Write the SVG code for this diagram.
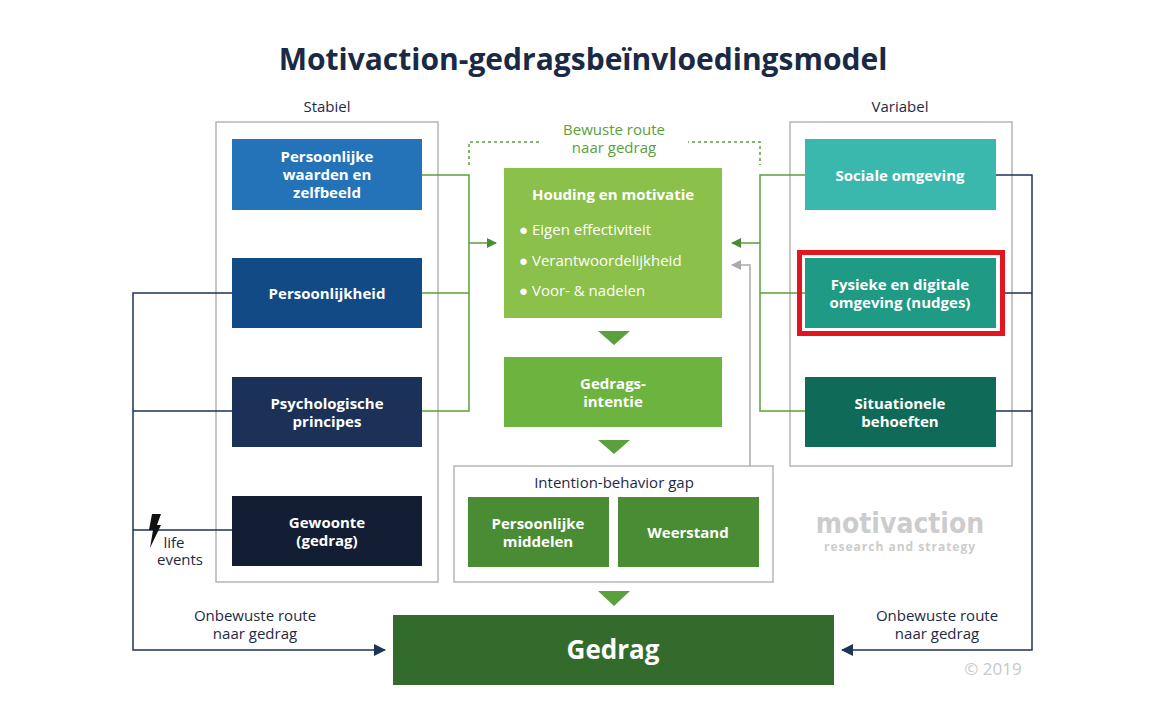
<svg xmlns="http://www.w3.org/2000/svg" width="1173" height="714" viewBox="0 0 1173 714">
<defs>
<marker id="ag" markerWidth="10" markerHeight="10" refX="9" refY="5" orient="auto" markerUnits="userSpaceOnUse"><path d="M0,0 L10,5 L0,10 z" fill="#4a8c34"/></marker>
<marker id="agr" markerWidth="10" markerHeight="10" refX="9" refY="5" orient="auto" markerUnits="userSpaceOnUse"><path d="M0,0 L10,5 L0,10 z" fill="#aaaaaa"/></marker>
<marker id="an" markerWidth="12" markerHeight="12" refX="11" refY="6" orient="auto" markerUnits="userSpaceOnUse"><path d="M0,0 L12,6 L0,12 z" fill="#1e3358"/></marker>
</defs>
<style>
text{font-family:"Open Sans","Liberation Sans",sans-serif;text-anchor:middle}
.bt{fill:#fff;font-weight:bold;font-size:15px}
.lb{fill:#1e2a44;font-size:15px}
.bl{fill:#fff;font-size:15px;text-anchor:start}
.panel{fill:none;stroke:#b5b5b5;stroke-width:1.5}
.g{stroke:#5aa03c;stroke-width:1.5;fill:none}
.n{stroke:#1e3358;stroke-width:1.5;fill:none}
</style>
<rect width="1173" height="714" fill="#fff"/>
<text x="583" y="70" font-size="30" font-weight="bold" fill="#1a2a44">Motivaction-gedragsbeïnvloedingsmodel</text>
<text x="327" y="112" class="lb">Stabiel</text>
<text x="900" y="112" class="lb">Variabel</text>
<rect class="panel" x="216" y="122" width="222" height="460"/>
<rect class="panel" x="790" y="122" width="222" height="344"/>
<rect class="panel" x="454" y="466" width="319" height="116"/>
<path d="M469,165 V142 H760 V165" fill="none" stroke="#5aa03c" stroke-width="1.5" stroke-dasharray="3,3"/>
<rect x="540" y="122" width="148" height="40" fill="#fff"/>
<text x="614" y="135" font-size="15" fill="#5aa03c">Bewuste route</text>
<text x="614" y="153" font-size="15" fill="#5aa03c">naar gedrag</text>
<g id="connectors">
<path class="g" d="M422,175 H469 V411 H422 M422,293 H469 M469,243 H496" marker-end="url(#ag)"/>
<path class="g" d="M805,175 H760 V411 H805 M805,293 H760 M760,243 H732" marker-end="url(#ag)"/>
<path d="M750,466 V265 H732" fill="none" stroke="#aaaaaa" stroke-width="1.5" marker-end="url(#agr)"/>
<path class="n" d="M232,293 H133 V650 H385" marker-end="url(#an)"/>
<path class="n" d="M232,411 H133 M232,530 H133"/>
<path class="n" d="M996,175 H1032 V650 H842" marker-end="url(#an)"/>
<path class="n" d="M1005,293 H1032 M996,411 H1032"/>
<path d="M598,331 L630,331 L614,345 z M598,440 L630,440 L614,454 z M598,591 L630,591 L614,606 z" fill="#5aa03c"/>
</g>
<g id="n1"><rect x="232" y="139" width="190" height="71" fill="#2472b8"/><text class="bt" x="327" y="162">Persoonlijke</text><text class="bt" x="327" y="180">waarden en</text><text class="bt" x="327" y="198">zelfbeeld</text></g>
<g id="n2"><rect x="232" y="258" width="190" height="70" fill="#124a86"/><text class="bt" x="327" y="299">Persoonlijkheid</text></g>
<g id="n3"><rect x="232" y="377" width="190" height="70" fill="#1b3157"/><text class="bt" x="327" y="409">Psychologische</text><text class="bt" x="327" y="427">principes</text></g>
<g id="n4"><rect x="232" y="496" width="190" height="70" fill="#131d33"/><text class="bt" x="327" y="528">Gewoonte</text><text class="bt" x="327" y="546">(gedrag)</text></g>
<g id="n5"><rect x="805" y="139" width="191" height="71" fill="#3bb8ad"/><text class="bt" x="900" y="181">Sociale omgeving</text></g>
<g id="n6"><rect x="799.5" y="252.5" width="203" height="81" fill="none" stroke="#e3161f" stroke-width="5"/><rect x="805" y="258" width="191" height="70" fill="#1f9a85"/><text class="bt" x="900" y="290">Fysieke en digitale</text><text class="bt" x="900" y="308">omgeving (nudges)</text></g>
<g id="n7"><rect x="805" y="377" width="191" height="70" fill="#0f6b58"/><text class="bt" x="900" y="409">Situationele</text><text class="bt" x="900" y="427">behoeften</text></g>
<g id="n8"><rect x="504" y="168" width="218" height="150" fill="#8bc04a"/><text class="bt" x="613" y="200">Houding en motivatie</text>
<text x="519" y="235" class="bl">● Eigen effectiviteit</text><text x="519" y="266" class="bl">● Verantwoordelijkheid</text><text x="519" y="296" class="bl">● Voor- &amp; nadelen</text></g>
<g id="n9"><rect x="504" y="357" width="218" height="70" fill="#6db33f"/><text class="bt" x="613" y="389">Gedrags-</text><text class="bt" x="613" y="407">intentie</text></g>
<text x="614" y="488" class="lb">Intention-behavior gap</text>
<g id="n10"><rect x="468" y="497" width="141" height="70" fill="#4a8c34"/><text class="bt" x="538" y="529">Persoonlijke</text><text class="bt" x="538" y="547">middelen</text></g>
<g id="n11"><rect x="618" y="497" width="141" height="70" fill="#4a8c34"/><text class="bt" x="688" y="538">Weerstand</text></g>
<g id="n12"><rect x="393" y="615" width="441" height="70" fill="#336b2c"/><text x="613" y="659" fill="#fff" font-weight="bold" font-size="26">Gedrag</text></g>
<path d="M152,514 L161,514 L157,525 L161,525 L150,548 L153,530 L149,530 z" fill="#111"/>
<text x="174" y="548" class="lb">life</text>
<text x="180" y="565" class="lb">events</text>
<text x="255" y="621" class="lb">Onbewuste route</text>
<text x="255" y="639" class="lb">naar gedrag</text>
<text x="937" y="621" class="lb">Onbewuste route</text>
<text x="937" y="639" class="lb">naar gedrag</text>
<text x="900" y="533" font-size="28" font-weight="bold" fill="#cccccc" style="font-family:'DejaVu Sans Condensed','Liberation Sans',sans-serif">motivaction</text>
<text x="900" y="551" font-size="12" font-weight="bold" fill="#cccccc" letter-spacing="1">research and strategy</text>
<text x="993" y="675" font-size="17" fill="#c8c8c8">© 2019</text>
</svg>
